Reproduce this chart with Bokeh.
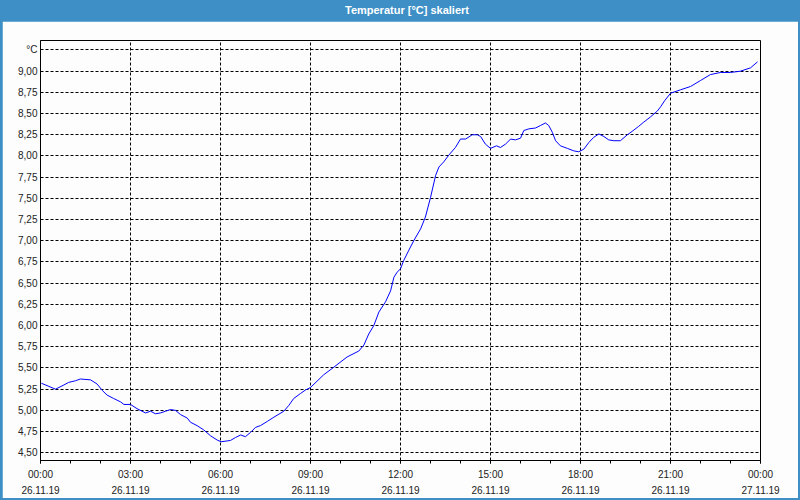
from bokeh.plotting import figure
from bokeh.models import Div, FixedTicker, LinearAxis, Range1d, ColumnDataSource
from bokeh.layouts import column
from bokeh.embed import file_html
from bokeh.resources import INLINE

# ---- data (hours since 26.11.19 00:00, temperature in °C) ----
hours = [0.03, 0.5, 0.78, 0.94, 1.17, 1.33, 1.67, 1.89, 2.06, 2.22, 2.44, 2.67, 2.78,
         3.0, 3.22, 3.5, 3.67, 3.83, 4.0, 4.17, 4.33, 4.5, 4.67, 4.89, 5.0, 5.22, 5.44,
         5.67, 5.89, 6.02, 6.33, 6.5, 6.67, 6.83, 7.0, 7.17, 7.33, 7.56, 7.78, 8.11,
         8.28, 8.44, 8.67, 8.83, 9.0, 9.44, 9.78, 10.22, 10.61, 10.78, 10.94, 11.11,
         11.28, 11.5, 11.67, 11.78, 11.89, 12.0, 12.11, 12.28, 12.44, 12.67, 12.83,
         13.0, 13.17, 13.28, 13.44, 13.61, 13.83, 14.0, 14.17, 14.39, 14.56, 14.67,
         14.83, 15.0, 15.2, 15.33, 15.5, 15.67, 15.83, 16.0, 16.11, 16.28, 16.5, 16.67,
         16.83, 16.94, 17.06, 17.17, 17.33, 17.56, 17.78, 17.94, 18.11, 18.28, 18.44,
         18.61, 18.78, 18.94, 19.11, 19.33, 19.56, 19.72, 19.94, 20.11, 20.33, 20.56,
         20.67, 20.8, 21.0, 21.33, 21.67, 22.0, 22.33, 22.67, 23.0, 23.33, 23.67, 23.9]
temps = [5.32, 5.25, 5.30, 5.33, 5.35, 5.37, 5.36, 5.31, 5.235, 5.18, 5.14, 5.10, 5.07,
         5.07, 5.02, 4.97, 4.99, 4.96, 4.97, 4.99, 5.01, 5.00, 4.95, 4.91, 4.86, 4.82, 4.77,
         4.70, 4.65, 4.63, 4.645, 4.68, 4.71, 4.69, 4.74, 4.80, 4.82, 4.87, 4.92, 4.99,
         5.06, 5.14, 5.20, 5.24, 5.27, 5.42, 5.51, 5.63, 5.70, 5.77, 5.90, 6.00,
         6.16, 6.28, 6.41, 6.57, 6.63, 6.67, 6.77, 6.89, 7.00, 7.14, 7.28,
         7.51, 7.77, 7.87, 7.93, 8.01, 8.10, 8.20, 8.20, 8.25, 8.25, 8.23,
         8.14, 8.09, 8.12, 8.10, 8.14, 8.20, 8.19, 8.21, 8.30, 8.32, 8.33, 8.36,
         8.39, 8.36, 8.28, 8.18, 8.12, 8.09, 8.06, 8.05, 8.08, 8.16, 8.22,
         8.26, 8.23, 8.19, 8.18, 8.18, 8.25, 8.29, 8.35, 8.40, 8.46, 8.53,
         8.58, 8.65, 8.74, 8.78, 8.82, 8.89, 8.96, 8.985, 8.985, 9.00, 9.04, 9.11]

x_ticks = [0, 3, 6, 9, 12, 15, 18, 21, 24]
x_minor_ticks = list(range(0, 25))
time_labels = ["00:00", "03:00", "06:00", "09:00", "12:00", "15:00", "18:00", "21:00", "00:00"]
date_labels = ["26.11.19"] * 8 + ["27.11.19"]
y_ticks = [4.5, 4.75, 5.0, 5.25, 5.5, 5.75, 6.0, 6.25, 6.5, 6.75, 7.0, 7.25, 7.5,
           7.75, 8.0, 8.25, 8.5, 8.75, 9.0, 9.25]
y_labels = ["4,50", "4,75", "5,00", "5,25", "5,50", "5,75", "6,00", "6,25", "6,50",
            "6,75", "7,00", "7,25", "7,50", "7,75", "8,00", "8,25", "8,50", "8,75",
            "9,00", "°C"]
title_text = "Temperatur [°C] skaliert"

BLUE = "#3d8fc6"
BG = "#fcfdfc"
FONT = "Liberation Sans"
TXT = "#222222"

title_div = Div(text=title_text, width=800, height=21, margin=0,
                styles={"background-color": BLUE, "color": "white",
                        "font-family": FONT, "font-weight": "bold",
                        "font-size": "11px", "text-align": "center",
                        "line-height": "20px", "padding-left": "14px",
                        "box-sizing": "border-box"})

p = figure(width=796, height=477, margin=(0, 2, 2, 2),
           output_backend="svg", toolbar_location=None,
           x_range=Range1d(0, 24), y_range=Range1d(4.409, 9.362),
           min_border_left=38, min_border_right=38,
           min_border_top=19, min_border_bottom=38,
           background_fill_color=BG, border_fill_color=BG)
p.outline_line_color = "black"
p.outline_line_width = 1

src = ColumnDataSource(dict(x=hours, y=temps))
p.line("x", "y", source=src, line_color="#0000ff", line_width=1)

# grids
p.xgrid.ticker = FixedTicker(ticks=x_ticks)
p.ygrid.ticker = FixedTicker(ticks=y_ticks)
for g in (p.xgrid, p.ygrid):
    g.grid_line_color = "black"
    g.grid_line_dash = "3 2"
    g.grid_line_width = 1
    g.grid_line_alpha = 1.0

# x axis (times)
xa = p.xaxis[0]
xa.ticker = FixedTicker(ticks=x_ticks, minor_ticks=x_minor_ticks)
xa.major_label_overrides = {t: l for t, l in zip(x_ticks, time_labels)}
xa.axis_line_color = "black"
xa.major_tick_line_color = "black"
xa.minor_tick_line_color = "black"
xa.major_tick_in = 0
xa.major_tick_out = 3
xa.minor_tick_in = 0
xa.minor_tick_out = 3
xa.major_label_standoff = 5
xa.major_label_text_font = FONT
xa.major_label_text_font_size = "10px"
xa.major_label_text_color = TXT

# second x axis (dates)
xa2 = LinearAxis(ticker=FixedTicker(ticks=x_ticks, minor_ticks=[]))
xa2.major_label_overrides = {t: l for t, l in zip(x_ticks, date_labels)}
xa2.axis_line_color = None
xa2.major_tick_line_color = None
xa2.minor_tick_line_color = None
xa2.major_tick_in = 0
xa2.major_tick_out = 0
xa2.major_label_standoff = 3
xa2.major_label_text_font = FONT
xa2.major_label_text_font_size = "10px"
xa2.major_label_text_color = TXT
p.add_layout(xa2, "below")

# y axis
ya = p.yaxis[0]
ya.ticker = FixedTicker(ticks=y_ticks, minor_ticks=[])
ya.major_label_overrides = {t: l for t, l in zip(y_ticks, y_labels)}
ya.axis_line_color = "black"
ya.major_tick_line_color = None
ya.major_tick_in = 0
ya.major_tick_out = 0
ya.major_label_standoff = 3
ya.major_label_text_font = FONT
ya.major_label_text_font_size = "10px"
ya.major_label_text_color = TXT

layout = column(title_div, p, width=800, height=500, spacing=0,
                styles={"background-color": BLUE})

open("out.html", "w").write(file_html(layout, INLINE))
